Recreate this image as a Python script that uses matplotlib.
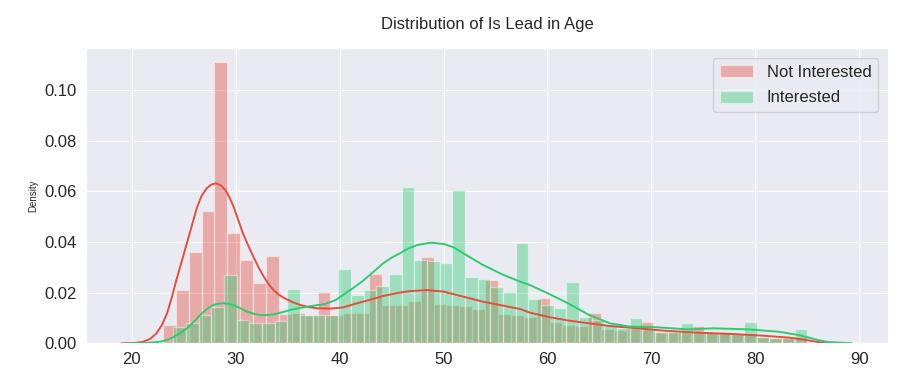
import numpy as np
import matplotlib
matplotlib.use("Agg")
import matplotlib.pyplot as plt
import seaborn as sns

# histogram heights (density), 50 bins each
red_range = (23, 85)
red_heights = [
    0.0074, 0.0209, 0.0360, 0.0523, 0.1108, 0.0437, 0.0330, 0.0238, 0.0344, 0.0115,
    0.0120, 0.0110, 0.0204, 0.0110, 0.0118, 0.0120, 0.0272, 0.0150, 0.0152, 0.0167,
    0.0340, 0.0156, 0.0152, 0.0146, 0.0137, 0.0250, 0.0116, 0.0110, 0.0105, 0.0177,
    0.0085, 0.0072, 0.0067, 0.0118, 0.0058, 0.0052, 0.0059, 0.0085, 0.0046, 0.0045,
    0.0045, 0.0068, 0.0046, 0.0045, 0.0036, 0.0036, 0.0024, 0.0020, 0.0020, 0.0026,
]
green_range = (24, 85)
green_heights = [
    0.0065, 0.0081, 0.0112, 0.0142, 0.0268, 0.0092, 0.0081, 0.0081, 0.0089, 0.0214,
    0.0112, 0.0110, 0.0110, 0.0295, 0.0190, 0.0210, 0.0226, 0.0272, 0.0618, 0.0330,
    0.0326, 0.0316, 0.0605, 0.0263, 0.0252, 0.0223, 0.0202, 0.0394, 0.0174, 0.0151,
    0.0138, 0.0242, 0.0105, 0.0092, 0.0075, 0.0060, 0.0101, 0.0055, 0.0046, 0.0045,
    0.0079, 0.0045, 0.0046, 0.0045, 0.0036, 0.0085, 0.0024, 0.0020, 0.0020, 0.0055,
]

# kde curves
red_kde_age = [19.0, 20.2, 21.1, 21.8, 22.4, 22.9, 23.4, 23.85, 24.3, 24.8, 25.3, 25.8,
               26.25, 26.7, 27.2, 27.65, 28.1, 28.55, 29.0, 29.4, 29.8, 30.25, 30.7,
               31.2, 31.7, 32.2, 32.7, 33.15, 33.6, 34.1, 34.7, 35.5, 36.3, 37.1, 37.9,
               39.2, 40.4, 41.5, 42.8, 44.2, 45.8, 46.8, 48.4, 50.0, 51.9, 53.8, 55.8,
               57.4, 58.3, 60.2, 62.1, 64.0, 66.0, 68.8, 71.1, 74.4, 77.6, 80.8, 83.3,
               84.6, 86.0, 87.5, 89.0]
red_kde = [0.0, 0.0001, 0.0006, 0.0018, 0.0040, 0.0072, 0.0118, 0.0180, 0.0250, 0.0322,
           0.0394, 0.0466, 0.0532, 0.0580, 0.0611, 0.0626, 0.0631, 0.0624, 0.0605, 0.0576,
           0.0539, 0.0486, 0.0434, 0.0386, 0.0342, 0.0300, 0.0263, 0.0234, 0.0212, 0.0193,
           0.0178, 0.0162, 0.0150, 0.0142, 0.0138, 0.0137, 0.0142, 0.0156, 0.0170, 0.0187,
           0.0200, 0.0206, 0.0210, 0.0204, 0.0184, 0.0164, 0.0148, 0.0135, 0.0121, 0.0103,
           0.0089, 0.0079, 0.0068, 0.0059, 0.0050, 0.0042, 0.0037, 0.0030, 0.0022, 0.0015,
           0.0005, 0.0001, 0.0]
green_kde_age = [19.8, 21.5, 22.7, 23.4, 24.0, 24.65, 25.3, 26.0, 26.6, 27.2, 27.85, 28.3,
                 28.8, 29.3, 29.8, 30.4, 31.1, 31.7, 32.3, 32.9, 33.5, 34.5, 35.5, 36.8,
                 38.6, 39.6, 40.5, 41.3, 42.2, 43.2, 44.2, 45.0, 45.8, 46.5, 47.5, 48.8,
                 50.0, 51.0, 51.9, 52.8, 53.8, 54.8, 55.8, 57.4, 58.3, 60.2, 62.1, 64.0,
                 66.0, 67.9, 70.6, 73.5, 76.0, 79.3, 82.2, 84.1, 85.1, 86.0, 87.0, 89.3]
green_kde = [0.0, 0.0002, 0.0006, 0.0013, 0.0024, 0.0040, 0.0059, 0.0086, 0.0112, 0.0135,
             0.0151, 0.0156, 0.0158, 0.0156, 0.0151, 0.0139, 0.0125, 0.0117, 0.0112, 0.0111,
             0.0113, 0.0123, 0.0134, 0.0144, 0.0155, 0.0170, 0.0195, 0.0218, 0.0245, 0.0280,
             0.0316, 0.0338, 0.0355, 0.0372, 0.0388, 0.0397, 0.0392, 0.0378, 0.0355, 0.0333,
             0.0309, 0.0289, 0.0269, 0.0243, 0.0230, 0.0194, 0.0155, 0.0112, 0.0079, 0.0066,
             0.0063, 0.0055, 0.0059, 0.0055, 0.0046, 0.0033, 0.0023, 0.0013, 0.0005, 0.0]

red = "#e74c3c"
green = "#2ecc71"

sns.set_style("darkgrid")
plt.rcParams["font.family"] = ["Liberation Sans", "DejaVu Sans"]

fig = plt.figure(figsize=(9.05, 3.70), dpi=100)
ax = fig.add_axes([86 / 905, 1 - 343.3 / 370, (888 - 86) / 905, (343.3 - 48) / 370])

red_edges = np.linspace(red_range[0], red_range[1], len(red_heights) + 1)
green_edges = np.linspace(green_range[0], green_range[1], len(green_heights) + 1)

ax.bar(red_edges[:-1], red_heights, width=np.diff(red_edges), align="edge",
       color=red, alpha=0.4, edgecolor="white", linewidth=1, label="Not Interested")
ax.bar(green_edges[:-1], green_heights, width=np.diff(green_edges), align="edge",
       color=green, alpha=0.4, edgecolor="white", linewidth=1, label="Interested")
ax.plot(red_kde_age, red_kde, color=red, lw=1.4)
ax.plot(green_kde_age, green_kde, color=green, lw=1.4)

ax.set_xlim(15.6, 92.76)
ax.set_ylim(0, 0.1165)
ax.set_xticks(range(20, 91, 10))
ax.set_yticks(np.arange(0, 0.101, 0.02))
ax.set_yticklabels([f"{v:.2f}" for v in np.arange(0, 0.101, 0.02)])
ax.tick_params(axis="x", labelsize=12, pad=6, length=0, colors=".15")
ax.tick_params(axis="y", labelsize=12, pad=7, length=0, colors=".15")
ax.set_ylabel("Density", fontsize=7, labelpad=4)
ax.set_title("Distribution of Is Lead in Age", fontsize=12, pad=13.5, color=".15")

ax.legend(loc="upper right", fontsize=12, frameon=True, labelspacing=0.65,
          borderaxespad=0.6)

fig.savefig("out.png", dpi=100)
